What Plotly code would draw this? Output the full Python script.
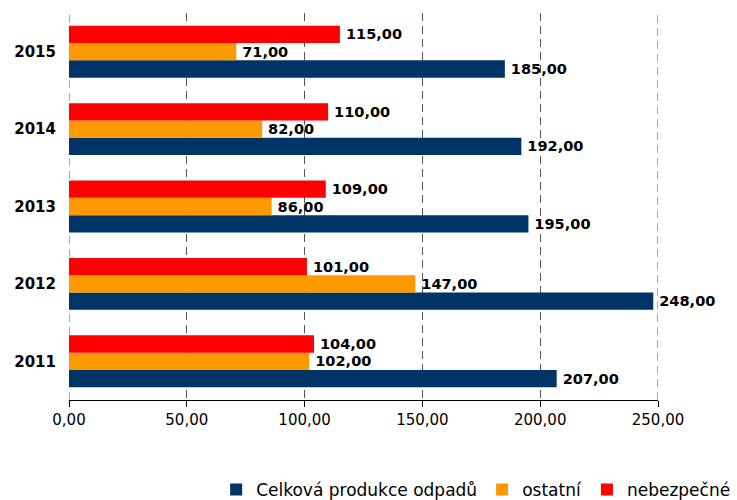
import plotly.graph_objects as go

years = ["2011", "2012", "2013", "2014", "2015"]
celkova = [207, 248, 195, 192, 185]
ostatni = [102, 147, 86, 82, 71]
nebezpecne = [104, 101, 109, 110, 115]
tick_vals = [0, 50, 100, 150, 200, 250]
tick_text = ["0,00", "50,00", "100,00", "150,00", "200,00", "250,00"]

series = [
    ("Celková produkce odpadů", celkova, "#003366"),
    ("ostatní", ostatni, "#FF9900"),
    ("nebezpečné", nebezpecne, "#FF0000"),
]

fig = go.Figure()
for name, vals, color in series:
    fig.add_trace(go.Bar(
        y=years, x=vals, name=name, orientation="h",
        marker=dict(color=color, line=dict(width=0)),
        texttemplate="\u2009<b>%{x:.2f}</b>", textposition="outside",
        textfont=dict(family="DejaVu Sans", size=16, color="black"),
        cliponaxis=False,
    ))

# dashed lines at the axis edges (plotly omits edge gridlines)
for v in (tick_vals[0], tick_vals[-1]):
    fig.add_shape(type="line", xref="x", yref="paper", x0=v, x1=v, y0=0, y1=1,
                  line=dict(color="#555555", width=1, dash="8px,5px"), layer="below")

fig.update_layout(
    width=737, height=500,
    barmode="group", bargap=0.33, bargroupgap=0,
    separators=", ",
    plot_bgcolor="white", paper_bgcolor="white",
    margin=dict(l=69, r=79, t=13, b=100, autoexpand=False),
    font=dict(family="DejaVu Sans", size=15, color="black"),
    xaxis=dict(
        range=[0, 250], tickvals=tick_vals, ticktext=tick_text,
        showgrid=True, gridcolor="#555555", griddash="8px,5px", gridwidth=1,
        zeroline=False, showline=True, linecolor="black", linewidth=1,
        ticks="outside", ticklen=6, tickcolor="black",
        tickfont=dict(size=15),
    ),
    yaxis=dict(
        showgrid=False, zeroline=False, showline=False,
        tickfont=dict(size=15, family="DejaVu Sans"),
        ticklabelstandoff=12,
        tickvals=years, ticktext=["<b>%s</b>" % y for y in years],
    ),
    legend=dict(
        orientation="h", x=1.131, xanchor="right", y=-0.2326, yanchor="middle",
        font=dict(size=17), traceorder="normal",
        itemwidth=30, tracegroupgap=0,
    ),
    showlegend=True,
)

fig.write_html("out.html", config={"displayModeBar": False},
               post_script="document.body.style.margin='0px';")
